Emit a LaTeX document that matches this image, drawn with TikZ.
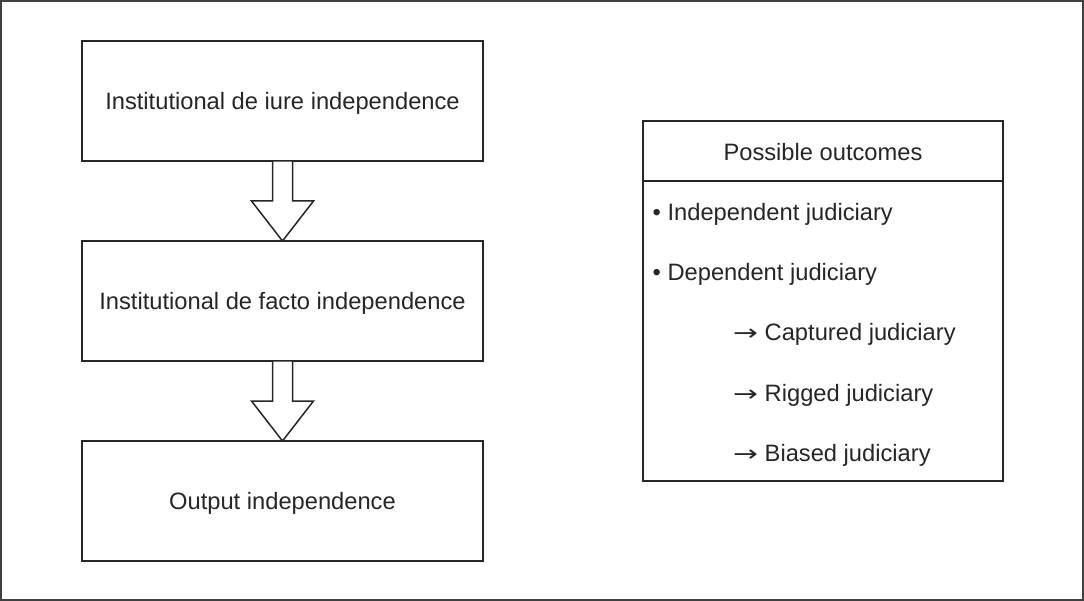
\documentclass[tikz,border=0pt]{standalone}
\usepackage{fontspec}
\usepackage{graphicx}
\setmainfont{Liberation Sans}
\newfontfamily\dvfont{DejaVu Sans}
\usetikzlibrary{calc}
\newcommand{\rarr}{\makebox[31.5pt][l]{\scalebox{1.35}[1]{\dvfont\fontsize{22}{28}\selectfont →}}}
\begin{document}
\begin{tikzpicture}[x=1pt,y=-1pt,
  box/.style={draw=black!85,line width=1.5pt,fill=white},
  blockarrow/.style={draw=black!85,line width=1.5pt,fill=white,line join=miter},
  txt/.style={inner sep=0pt,text=black!85,font=\fontsize{23.7}{28}\selectfont},
  frame/.style={draw=black!75,line width=1.5pt}]
\useasboundingbox (0,0) rectangle (1084,601);
\draw[frame] (1,1) rectangle (1083,600);
% left column boxes
\draw[box] (82,41) rectangle (483,161);
\draw[box] (82,241) rectangle (483,361);
\draw[box] (82,441) rectangle (483,561);
\coordinate (b1s) at (282.5,161);
\coordinate (b2n) at (282.5,241);
\coordinate (b2s) at (282.5,361);
\coordinate (b3n) at (282.5,441);
\node[txt,anchor=base] (t1) at (282.5,109.5) {Institutional de iure independence};
\node[txt,anchor=base] (t2) at (282.5,309.5) {Institutional de facto independence};
\node[txt,anchor=base] (t3) at (282.5,509.5) {Output independence};
% block arrows
\draw[blockarrow] ($(b1s)+(-10,0)$) -- ($(b1s)+(-10,40)$) -- ($(b1s)+(-31,40)$) -- (b2n)
  -- ($(b1s)+(31,40)$) -- ($(b1s)+(10,40)$) -- ($(b1s)+(10,0)$) -- cycle;
\draw[blockarrow] ($(b2s)+(-10,0)$) -- ($(b2s)+(-10,40)$) -- ($(b2s)+(-31,40)$) -- (b3n)
  -- ($(b2s)+(31,40)$) -- ($(b2s)+(10,40)$) -- ($(b2s)+(10,0)$) -- cycle;
% outcomes box
\draw[box] (643,121) rectangle (1003,481);
\draw[box] (643,181) -- (1003,181);
\node[txt,anchor=base] (po) at (823,160.5) {Possible outcomes};
\node[txt,anchor=base west] (o1) at (652.5,221) {• Independent judiciary};
\node[txt,anchor=base west] (o2) at (652.5,281) {• Dependent judiciary};
\node[txt,anchor=base west] (o3) at (733,341) {\rarr Captured judiciary};
\node[txt,anchor=base west] (o4) at (733,401) {\rarr Rigged judiciary};
\node[txt,anchor=base west] (o5) at (733,461) {\rarr Biased judiciary};
\end{tikzpicture}
\end{document}
